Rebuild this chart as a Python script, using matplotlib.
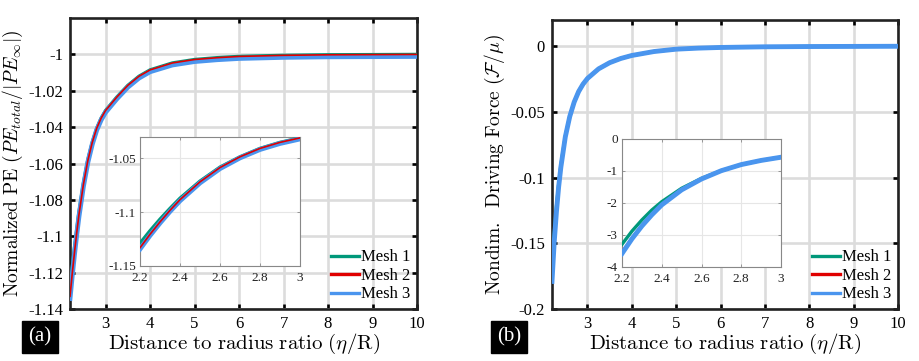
import matplotlib
matplotlib.use("Agg")
import matplotlib.pyplot as plt

plt.rcParams['font.family'] = ['Liberation Serif', 'DejaVu Serif']
plt.rcParams['mathtext.fontset'] = 'cm'

# Distance to radius ratio (first 11 points are also used for the insets)
x = [2.2, 2.25, 2.3, 2.35, 2.4, 2.5, 2.6, 2.7, 2.8, 2.9, 3.0,
     3.25, 3.5, 3.75, 4.0, 4.5, 5.0, 5.5, 6.0, 7.0, 8.0, 9.0, 10.0]

# (a) normalized PE
pe_mesh1 = [-1.1288, -1.1172, -1.1064, -1.0964, -1.0869, -1.0710, -1.0580, -1.0484, -1.0406, -1.0350, -1.0308,
            -1.0235, -1.0170, -1.0120, -1.0085, -1.0047, -1.0028, -1.0018, -1.0011, -1.0005, -1.0002, -1.0001, -1.0000]
pe_mesh2 = [-1.1330, -1.1205, -1.1090, -1.0982, -1.0883, -1.0717, -1.0584, -1.0484, -1.0406, -1.0350, -1.0308,
            -1.0235, -1.0170, -1.0120, -1.0085, -1.0047, -1.0028, -1.0018, -1.0011, -1.0005, -1.0002, -1.0001, -1.0000]
pe_mesh3 = [-1.1342, -1.1216, -1.1100, -1.0992, -1.0893, -1.0727, -1.0594, -1.0494, -1.0416, -1.0360, -1.0318,
            -1.0245, -1.0180, -1.0130, -1.0095, -1.0058, -1.0039, -1.0029, -1.0022, -1.0016, -1.0013, -1.0012, -1.0011]

# (b) driving force
f_mesh1 = [-0.166, -0.143, -0.122, -0.105, -0.0905, -0.0685, -0.0535, -0.0425, -0.0345, -0.0288, -0.0245,
           -0.0172, -0.0125, -0.0093, -0.0070, -0.0040, -0.0022, -0.0014, -0.0009, -0.0004, -0.0002, -0.0001, 0.0]
f_mesh2 = [-0.175, -0.147, -0.125, -0.1065, -0.0915, -0.069, -0.0535, -0.0425, -0.0345, -0.0288, -0.0245,
           -0.0172, -0.0125, -0.0093, -0.0070, -0.0040, -0.0022, -0.0014, -0.0009, -0.0004, -0.0002, -0.0001, 0.0]
f_mesh3 = [-0.179, -0.149, -0.126, -0.107, -0.092, -0.069, -0.0535, -0.0425, -0.0345, -0.0288, -0.0245,
           -0.0172, -0.0125, -0.0093, -0.0070, -0.0040, -0.0022, -0.0014, -0.0009, -0.0004, -0.0002, -0.0001, 0.0]

# inset of (b)
fi_mesh1 = [-3.29, -2.88, -2.53, -2.22, -1.96, -1.54, -1.23, -0.99, -0.80, -0.67, -0.57]
fi_mesh2 = [-3.51, -3.07, -2.68, -2.34, -2.04, -1.58, -1.25, -0.99, -0.80, -0.67, -0.57]
fi_mesh3 = [-3.58, -3.12, -2.72, -2.37, -2.06, -1.59, -1.25, -0.99, -0.80, -0.67, -0.57]

labels = ["Mesh 1", "Mesh 2", "Mesh 3"]
colors = ["#00987A", "#E00000", "#4A95EE"]
widths = [2.4, 1.2, 3.5]

xticks = [3, 4, 5, 6, 7, 8, 9, 10]
xtick_labels = ["3", "4", "5", "6", "7", "8", "9", "10"]
ya_ticks = [-1.14, -1.12, -1.10, -1.08, -1.06, -1.04, -1.02, -1.0]
ya_labels = ["-1.14", "-1.12", "-1.1", "-1.08", "-1.06", "-1.04", "-1.02", "-1"]
yb_ticks = [-0.2, -0.15, -0.1, -0.05, 0.0]
yb_labels = ["-0.2", "-0.15", "-0.1", "-0.05", "0"]
xi_ticks = [2.2, 2.4, 2.6, 2.8, 3.0]
xi_labels = ["2.2", "2.4", "2.6", "2.8", "3"]
yia_ticks = [-1.15, -1.10, -1.05]
yia_labels = ["-1.15", "-1.1", "-1.05"]
yib_ticks = [-4, -3, -2, -1, 0]
yib_labels = ["-4", "-3", "-2", "-1", "0"]

n_in = 11  # points shown in the insets

fig = plt.figure(figsize=(9.2, 3.61), dpi=100)


def style_main(ax):
    ax.grid(True, color="#dcdcdc", linewidth=1.9, zorder=0)
    ax.set_axisbelow(True)
    for s in ax.spines.values():
        s.set_linewidth(1.9)
        s.set_color("#222222")
    ax.tick_params(direction="in", length=3.5, width=1.9, top=True, right=True, labelsize=12, pad=5)


def style_inset(ax):
    ax.grid(True, color="#e6e6e6", linewidth=0.8)
    ax.set_axisbelow(True)
    for s in ax.spines.values():
        s.set_linewidth(0.8)
        s.set_color("#888888")
    ax.tick_params(direction="in", length=2.5, width=0.6, colors="#888888", labelcolor="#222222",
                   top=True, right=True, labelsize=9.5)
    ax.tick_params(axis="x", pad=4)
    ax.tick_params(axis="y", pad=3)


# legend handles: all three drawn with same width like in the original
h = [plt.Line2D([], [], color=c, linewidth=2.4) for c in colors]

# Panel (a): green under blue, red on top
ax1 = fig.add_axes([0.0761, 0.144, 0.3772, 0.806])
order_a = [0, 2, 1]
ys_a = [pe_mesh1, pe_mesh2, pe_mesh3]
for z, i in enumerate(order_a):
    ax1.plot(x, ys_a[i], color=colors[i], linewidth=widths[i], zorder=3 + z)
ax1.set_xlim(2.2, 10)
ax1.set_ylim(-1.14, -0.98)
ax1.set_xticks(xticks)
ax1.set_xticklabels(xtick_labels)
ax1.set_yticks(ya_ticks)
ax1.set_yticklabels(ya_labels)
style_main(ax1)
ax1.set_xlabel(r"$\mathrm{Distance\ to\ radius\ ratio\ }(\eta/\mathrm{R})$", fontsize=15, labelpad=0)
ax1.set_ylabel(r"$\mathrm{Normalized\ PE\ }(PE_{total}/|PE_{\infty}|)$", fontsize=14, labelpad=2)
ax1.legend(h, labels, loc="lower right", frameon=False, fontsize=12, handlelength=1.7, handletextpad=0.1,
           labelspacing=0.15, borderaxespad=0.0)

ins1 = fig.add_axes([0.1522, 0.2632, 0.1739, 0.3573])
for z, i in enumerate(order_a):
    ins1.plot(x[:n_in], ys_a[i][:n_in], color=colors[i], linewidth=widths[i], zorder=3 + z)
ins1.set_xlim(2.2, 3)
ins1.set_ylim(-1.15, -1.03)
ins1.set_xticks(xi_ticks)
ins1.set_xticklabels(xi_labels)
ins1.set_yticks(yia_ticks)
ins1.set_yticklabels(yia_labels)
style_inset(ins1)

# Panel (b): blue on top
ax2 = fig.add_axes([0.600, 0.144, 0.376, 0.8006])
order_b = [0, 1, 2]
ys_b = [f_mesh1, f_mesh2, f_mesh3]
for z, i in enumerate(order_b):
    ax2.plot(x, ys_b[i], color=colors[i], linewidth=widths[i], zorder=3 + z)
ax2.set_xlim(2.2, 10)
ax2.set_ylim(-0.2, 0.02)
ax2.set_xticks(xticks)
ax2.set_xticklabels(xtick_labels)
ax2.set_yticks(yb_ticks)
ax2.set_yticklabels(yb_labels)
style_main(ax2)
ax2.set_xlabel(r"$\mathrm{Distance\ to\ radius\ ratio\ }(\eta/\mathrm{R})$", fontsize=15, labelpad=0)
ax2.set_ylabel(r"$\mathrm{Nondim.\ \ Driving\ Force\ }(\mathcal{F}/\mu)$", fontsize=14, labelpad=2)
ax2.legend(h, labels, loc="lower right", frameon=False, fontsize=12, handlelength=1.7, handletextpad=0.1,
           labelspacing=0.15, borderaxespad=0.0)

ins2 = fig.add_axes([0.6761, 0.2604, 0.1728, 0.3546])
fis = [fi_mesh1, fi_mesh2, fi_mesh3]
for z, i in enumerate(order_b):
    ins2.plot(x[:n_in], fis[i], color=colors[i], linewidth=widths[i], zorder=3 + z)
ins2.set_xlim(2.2, 3)
ins2.set_ylim(-4, 0)
ins2.set_xticks(xi_ticks)
ins2.set_xticklabels(xi_labels)
ins2.set_yticks(yib_ticks)
ins2.set_yticklabels(yib_labels)
style_inset(ins2)

# panel tags
fig.text(0.0435, 0.0665, "(a)", color="white", fontsize=15, ha="center", va="center",
         bbox=dict(boxstyle="square,pad=0.3", facecolor="black", edgecolor="black"))
fig.text(0.5533, 0.0665, "(b)", color="white", fontsize=15, ha="center", va="center",
         bbox=dict(boxstyle="square,pad=0.3", facecolor="black", edgecolor="black"))

fig.savefig("out.png", dpi=100)
